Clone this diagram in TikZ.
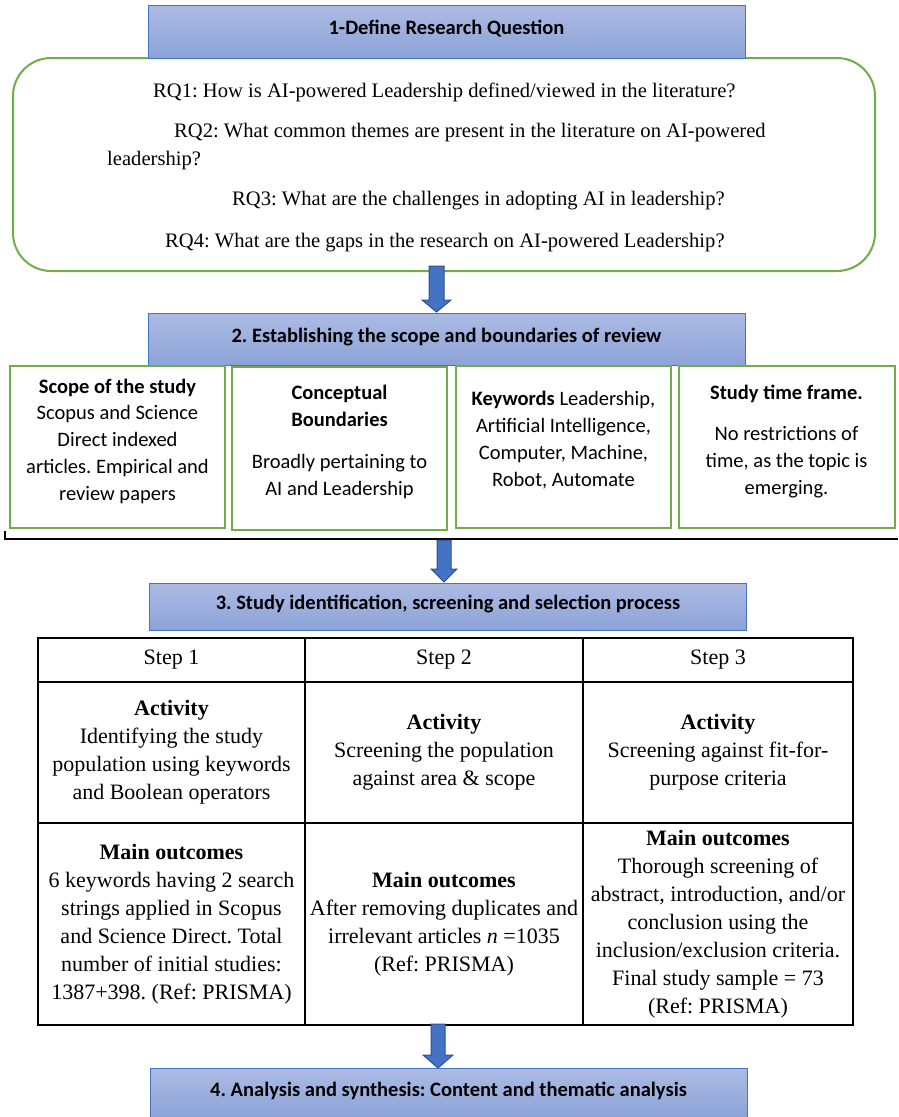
\documentclass[tikz,border=0pt]{standalone}
\usepackage{fontspec}
\setmainfont{Liberation Serif}
\newfontfamily\calibri{Carlito}
\frenchspacing
\definecolor{gr}{RGB}{112,173,71}
\definecolor{hdrtop}{RGB}{172,187,227}
\definecolor{hdrbot}{RGB}{140,163,216}
\definecolor{hdrline}{RGB}{68,114,196}
\definecolor{arrfill}{RGB}{68,114,196}
\definecolor{arrline}{RGB}{47,82,143}
\newcommand\blkarrow[6]{%
  \draw[blkarr] (#1-#5,#2) -- (#1+#5,#2) -- (#1+#5,#3) -- (#1+#6,#3) -- (#1,#4) -- (#1-#6,#3) -- (#1-#5,#3) -- cycle;}
\begin{document}
\frenchspacing
\begin{tikzpicture}[x=1pt,y=-1pt,
  hdr/.style={draw=hdrline, line width=0.8pt, top color=hdrtop, bottom color=hdrbot,
    minimum width=597pt, inner sep=0pt, font=\calibri\bfseries\fontsize{20.5}{25}\selectfont,
    text height=14pt, text depth=8pt},
  gbox/.style={draw=gr, line width=2pt, inner sep=0pt, minimum height=162pt},
  gtext/.style={align=center, inner sep=0pt, anchor=base, font=\calibri\fontsize{20.5}{26.7}\selectfont},
  rqtext/.style={inner sep=0pt, anchor=base west, font=\fontsize{20.6}{28}\selectfont},
  cell/.style={draw=black, line width=1.6pt, align=center, inner sep=0pt, font=\fontsize{22}{28}\selectfont},
  blkarr/.style={fill=arrfill, draw=arrline, line width=1pt, line join=miter}
]
\useasboundingbox (0,0) rectangle (898,1117);

% ---- Section 1
\node[draw=gr, line width=2pt, rounded corners=38pt, minimum width=862pt, minimum height=213pt] (rq) at (444,164.5) {};
\node[hdr, minimum height=53pt] (h1) at (446.5,31.5) {1-Define Research Question};
\node[rqtext] (rq1) at (153,97) {RQ1: How is AI-powered Leadership defined/viewed in the literature?};
\node[rqtext] (rq2) at (174,137) {RQ2: What common themes are present in the literature on AI-powered};
\node[rqtext] (rq2b) at (107,165) {leadership?};
\node[rqtext] (rq3) at (232,205) {RQ3: What are the challenges in adopting AI in leadership?};
\node[rqtext] (rq4) at (165,247) {RQ4: What are the gaps in the research on AI-powered Leadership?};

\blkarrow{436.5}{266}{300}{312}{7.5}{14.5}

% ---- Section 2
\node[hdr, minimum height=52pt] (h2) at (446.5,339) {2. Establishing the scope and boundaries of review};
\node[gbox, minimum width=215pt] (b1) at (117.5,447) {};
\node[gbox, minimum width=215pt, minimum height=163pt] (b2) at (339.5,448.5) {};
\node[gbox, minimum width=215pt] (b3) at (563.5,447) {};
\node[gbox, minimum width=216pt] (b4) at (787,447) {};
\node[gtext] (t1) at (117.5,500) {\textbf{Scope of the study}\\Scopus and Science\\Direct indexed\\articles. Empirical and\\review papers};
\node[gtext] (t2) at (339.5,495) {\textbf{Conceptual}\\\textbf{Boundaries}\\[15pt]Broadly pertaining to\\AI and Leadership};
\node[gtext] (t3) at (563.5,486) {\textbf{Keywords} Leadership,\\Artificial Intelligence,\\Computer, Machine,\\Robot, Automate};
\node[gtext] (t4) at (786.5,494) {\textbf{Study time frame.}\\[14pt]No restrictions of\\time, as the topic is\\emerging.};
\coordinate (brL) at (5,531);
\coordinate (brR) at (898,539);
\draw[line width=1.8pt] (brL) -- (brL |- brR) -- (brR);

\blkarrow{444}{540}{569}{582}{7}{13}

% ---- Section 3
\node[hdr, minimum height=47pt] (h3) at (448,606.5) {3. Study identification, screening and selection process};

\node[cell, minimum width=267pt, minimum height=44pt] (c11) at (171.5,660) {Step 1};
\node[cell, minimum width=278pt, minimum height=44pt] (c12) at (444,660) {Step 2};
\node[cell, minimum width=270pt, minimum height=44pt] (c13) at (718,660) {Step 3};
\node[cell, minimum width=267pt, minimum height=141pt] (c21) at (171.5,752.5)
  {\textbf{Activity}\\Identifying the study\\population using keywords\\and Boolean operators};
\node[cell, minimum width=278pt, minimum height=141pt] (c22) at (444,752.5)
  {\textbf{Activity}\\Screening the population\\against area \& scope};
\node[cell, minimum width=270pt, minimum height=141pt] (c23) at (718,752.5)
  {\textbf{Activity}\\Screening against fit-for-\\purpose criteria};
\node[cell, minimum width=267pt, minimum height=202pt] (c31) at (171.5,924)
  {\textbf{Main outcomes}\\6 keywords having 2 search\\strings applied in Scopus\\and Science Direct. Total\\number of initial studies:\\1387+398. (Ref: PRISMA)};
\node[cell, minimum width=278pt, minimum height=202pt] (c32) at (444,924)
  {\textbf{Main outcomes}\\After removing duplicates and\\irrelevant articles \textit{n} =1035\\(Ref: PRISMA)};
\node[cell, minimum width=270pt, minimum height=202pt] (c33) at (718,924)
  {\textbf{Main outcomes}\\Thorough screening of\\abstract, introduction, and/or\\conclusion using the\\inclusion/exclusion criteria.\\Final study sample = 73\\(Ref: PRISMA)};

\blkarrow{438}{1024}{1055}{1068}{7}{15}

% ---- Section 4
\node[hdr, minimum height=50pt] (h4) at (448.5,1093) {4. Analysis and synthesis: Content and thematic analysis};
\end{tikzpicture}
\end{document}
